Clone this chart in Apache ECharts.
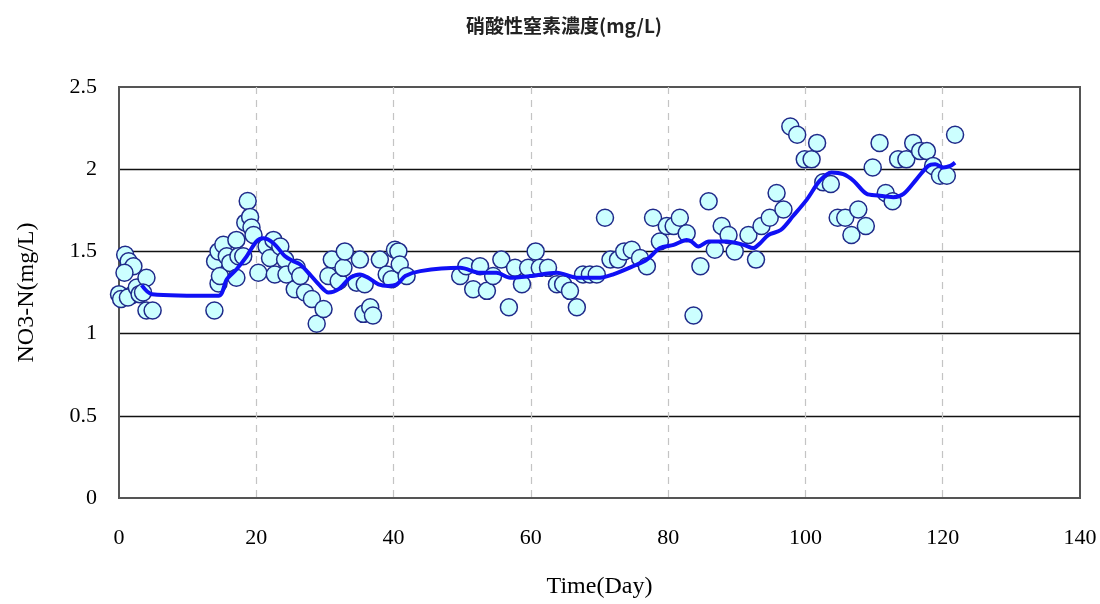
<!DOCTYPE html>
<html>
<head>
<meta charset="utf-8">
<script src="https://cdn.jsdelivr.net/npm/echarts@6/dist/echarts.min.js"></script>
<style>
html,body{margin:0;padding:0;background:#fff;}
#chart{width:1100px;height:604px;}
</style>
</head>
<body>
<div id="chart"></div>
<script>
// ---- Data ----
var titleText = '硝酸性窒素濃度(mg/L)';
var xAxisName = 'Time(Day)';
var yAxisName = 'NO3-N(mg/L)';
var xTicks = [0, 20, 40, 60, 80, 100, 120, 140];
var yTicks = [0, 0.5, 1, 1.5, 2, 2.5];

// Observed values (scatter)
var obsDays = [
  0.0, 0.3, 0.9, 1.4, 2.1, 0.8, 1.9, 1.3, 2.6, 3.0, 4.0, 4.0, 4.9, 3.5,
  13.9, 14.0, 14.5, 14.5, 14.7, 15.2, 15.7, 16.2, 17.1, 17.4, 17.1, 18.1, 18.4, 18.75, 19.1, 19.3, 19.6,
  20.3, 21.5, 22.0, 22.5, 22.7, 23.5, 24.2, 24.4, 25.6, 25.9, 26.4, 27.1, 28.1, 28.8, 29.8,
  30.5, 31.0, 32.0, 32.7, 32.9, 34.6, 35.1, 35.8, 35.6, 36.6, 37.0, 38.0, 39.0, 39.7, 40.2, 40.7, 40.9, 41.9,
  49.7, 50.6, 51.6, 52.6, 53.6, 54.5, 55.7, 56.8, 57.7, 58.7, 59.6, 60.7, 61.3, 62.5, 63.8, 64.7, 65.7, 66.7,
  67.6, 68.6, 69.6, 70.8, 71.6, 72.7, 73.6, 74.7, 75.9, 76.9, 77.8, 78.8, 79.8, 80.8, 81.7, 82.7, 83.7, 84.7,
  85.9, 86.8, 87.8, 88.8, 89.7, 91.7, 92.8, 93.6, 94.8, 95.8, 96.8, 97.8, 98.8, 99.9, 100.9, 101.7, 102.6,
  103.7, 104.7, 105.8, 106.7, 107.7, 108.8, 109.8, 110.8, 111.7, 112.7, 113.5, 114.7, 115.7, 116.7, 117.7,
  118.6, 119.6, 120.6, 121.8
];
var obsValues = [
  1.24, 1.21, 1.48, 1.44, 1.41, 1.37, 1.235, 1.22, 1.28, 1.24, 1.34, 1.14, 1.14, 1.25,
  1.14, 1.44, 1.50, 1.305, 1.35, 1.54, 1.47, 1.43, 1.57, 1.47, 1.34, 1.47, 1.675, 1.806, 1.71, 1.645, 1.60,
  1.37, 1.53, 1.46, 1.57, 1.36, 1.53, 1.45, 1.36, 1.27, 1.40, 1.35, 1.25, 1.21, 1.06, 1.15,
  1.35, 1.45, 1.32, 1.40, 1.50, 1.31, 1.45, 1.30, 1.12, 1.16, 1.11, 1.45, 1.36, 1.33, 1.51, 1.50, 1.42, 1.35,
  1.35, 1.41, 1.27, 1.41, 1.26, 1.35, 1.45, 1.16, 1.40, 1.30, 1.40, 1.50, 1.40, 1.40, 1.30, 1.30, 1.26, 1.16,
  1.36, 1.36, 1.36, 1.705, 1.45, 1.45, 1.50, 1.51, 1.46, 1.41, 1.705, 1.56, 1.655, 1.655, 1.705, 1.61, 1.11, 1.41,
  1.805, 1.51, 1.655, 1.60, 1.50, 1.60, 1.45, 1.655, 1.705, 1.855, 1.755, 2.26, 2.21, 2.06, 2.06, 2.16, 1.92,
  1.91, 1.705, 1.705, 1.60, 1.755, 1.655, 2.01, 2.16, 1.855, 1.805, 2.06, 2.06, 2.16, 2.11, 2.11,
  2.02, 1.96, 1.96, 2.21
];

// Moving-average trend line
var trendDays = [
  3.3, 4.8, 14.5, 15.7, 17.1, 18.6, 20.0, 21.0, 22.5, 24.2, 25.4, 26.4, 27.8, 29.3, 30.5, 32.0, 33.7,
  35.1, 36.3, 37.8, 39.2, 40.5, 41.7, 43.9, 49.7, 52.6, 55.0, 57.0, 59.9, 63.8, 66.7, 70.1, 72.0, 74.9,
  76.9, 78.8, 80.8, 82.7, 83.4, 84.4, 85.9, 88.5, 91.0, 92.4, 93.4, 94.6, 96.4, 98.2, 100.2, 102.1,
  103.8, 105.5, 107.0, 108.9, 110.6, 112.8, 114.3, 116.2, 117.9, 118.9, 120.1, 121.1, 121.8
];
var trendValues = [
  1.295, 1.24, 1.23, 1.33, 1.39, 1.47, 1.56, 1.58, 1.55, 1.47, 1.44, 1.42, 1.36, 1.29, 1.25, 1.27, 1.34,
  1.36, 1.34, 1.30, 1.29, 1.30, 1.35, 1.38, 1.40, 1.37, 1.37, 1.34, 1.35, 1.37, 1.34, 1.34, 1.36, 1.41,
  1.45, 1.52, 1.54, 1.57, 1.56, 1.53, 1.56, 1.56, 1.54, 1.52, 1.55, 1.60, 1.63, 1.715, 1.815, 1.93,
  1.98, 1.97, 1.93, 1.85, 1.84, 1.83, 1.85, 1.94, 2.02, 2.03, 2.01, 2.02, 2.04
];

// ---- Build ----
var obsData = obsDays.map(function (d, i) { return [d, obsValues[i]]; });
var trendData = trendDays.map(function (d, i) { return [d, trendValues[i]]; });

var serif = '"Liberation Serif","Times New Roman",serif';
var chart = echarts.init(document.getElementById('chart'), null, {renderer: 'canvas'});
chart.setOption({
  animation: false,
  backgroundColor: '#ffffff',
  title: {
    text: titleText,
    left: 559,
    top: 11,
    textAlign: 'center',
    textStyle: {fontFamily: '"Noto Sans CJK JP"', fontSize: 19, fontWeight: 'bold', color: '#222222'}
  },
  grid: {left: 119, right: 20, top: 87, bottom: 104, show: true, borderColor: '#555555', borderWidth: 2, backgroundColor: 'transparent'},
  xAxis: {
    type: 'value',
    min: xTicks[0], max: xTicks[xTicks.length - 1], interval: 20,
    name: xAxisName, nameLocation: 'middle', nameGap: 77,
    nameTextStyle: {fontFamily: serif, fontSize: 24, color: '#000'},
    axisLine: {show: true, lineStyle: {color: '#555555', width: 2}},
    axisTick: {show: false},
    axisLabel: {margin: 29, fontFamily: serif, fontSize: 22, color: '#000'},
    splitLine: {show: true, showMinLine: false, showMaxLine: false, lineStyle: {color: '#c4c4c4', width: 1.2, type: [7, 6]}}
  },
  yAxis: {
    type: 'value',
    min: yTicks[0], max: yTicks[yTicks.length - 1], interval: 0.5,
    name: yAxisName, nameLocation: 'middle', nameGap: 80, nameRotate: 90,
    nameTextStyle: {fontFamily: serif, fontSize: 24, color: '#000'},
    axisLine: {show: true, lineStyle: {color: '#555555', width: 2}},
    axisTick: {show: false},
    axisLabel: {margin: 22, fontFamily: serif, fontSize: 22, color: '#000'},
    splitLine: {show: true, showMinLine: false, showMaxLine: false, lineStyle: {color: '#111111', width: 1.3}}
  },
  series: [
    {
      type: 'scatter',
      data: obsData,
      symbol: 'circle',
      symbolSize: 17,
      itemStyle: {color: '#ccffff', borderColor: '#1f2a8a', borderWidth: 1.5, opacity: 1},
      z: 2
    },
    {
      type: 'line',
      data: trendData,
      showSymbol: false,
      symbol: 'none',
      smooth: 0.3,
      lineStyle: {color: '#1010f5', width: 4},
      z: 3
    }
  ]
});
</script>
</body>
</html>
